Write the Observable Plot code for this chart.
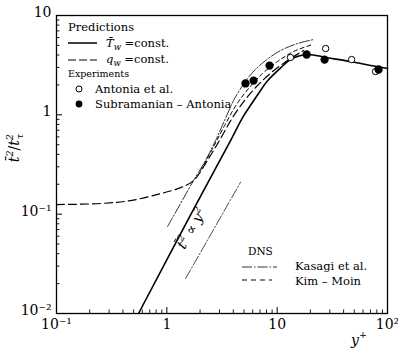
<!DOCTYPE html>
<html><head><meta charset="utf-8">
<script src="https://cdn.jsdelivr.net/npm/d3@7"></script>
<script src="https://cdn.jsdelivr.net/npm/@observablehq/plot@0.6"></script>
<style>html,body{margin:0;padding:0;background:#fff}svg{display:block}</style>
</head><body><div id="chart"></div>
<script>
// Prediction, T_w = const. (solid)
const solidX = [0.554, 1.541, 3.78, 4.86, 5.74, 6.78, 8.18, 10.7, 13.2, 18.9, 27.5, 46.3, 70.3, 100];
const solidY = [0.01, 0.0862, 0.551, 0.939, 1.25, 1.64, 2.2, 2.95, 3.6, 4.05, 3.78, 3.44, 3.14, 2.93];
// Prediction, q_w = const. (dashed)
const qwX = [0.1, 0.2506, 0.469, 0.877, 1.331, 1.746, 2.388, 3.068, 3.941, 5.064, 6.642, 9.085, 12.43, 17.35];
const qwY = [0.125, 0.128, 0.137, 0.161, 0.185, 0.218, 0.363, 0.577, 0.939, 1.393, 1.973, 2.73, 3.52, 4.44];
// DNS Kasagi et al. (dash-dot)
const kasX = [1.015, 1.331, 1.746, 2.243, 2.764, 3.336, 4.025, 4.857, 5.984, 7.849, 10.74, 15.31, 21.38];
const kasY = [0.075, 0.128, 0.218, 0.347, 0.551, 0.876, 1.393, 1.973, 2.67, 3.52, 4.44, 5.22, 5.73];
// DNS Kim - Moin (short dashes)
const kmX = [2.02, 2.596, 3.336, 4.284, 5.505, 7.374, 10.08, 14.08, 20.94];
const kmY = [0.275, 0.458, 0.78, 1.27, 1.84, 2.61, 3.44, 4.34, 5.10];
// reference slope line  t^2 ~ y^2
const refX = [1.48, 4.66];
const refY = [0.0225, 0.21];
// Experiments
const antX = [13.2, 27.5, 47.3, 78];
const antY = [3.78, 4.65, 3.6, 2.73];
const subX = [5.16, 6.11, 8.53, 18.5, 26.9, 83];
const subY = [2.07, 2.21, 3.13, 4.05, 3.6, 2.86];
// ticks
const xMajor = [0.1, 1, 10, 100];
const xLabels = ["10\u207B\u00B9", "1", "10", "10\u00B2"];
const yMajor = [0.01, 0.1, 1, 10];
const yLabels = ["10\u207B\u00B2", "10\u207B\u00B9", "1", "10"];
const minorTicks = d3.range(-2, 2).flatMap(e => d3.range(2, 10).map(m => m * Math.pow(10, e)));
const xMinor = minorTicks.filter(v => v > 0.1 && v < 100);
const yMinor = minorTicks.filter(v => v > 0.01 && v < 10);

const zipXY = (xs, ys) => xs.map((x, i) => ({x, y: ys[i]}));
const solid = zipXY(solidX, solidY), qw = zipXY(qwX, qwY), kas = zipXY(kasX, kasY),
      km = zipXY(kmX, kmY), ref = zipXY(refX, refY), ant = zipXY(antX, antY), sub = zipXY(subX, subY);

const serif = "'DejaVu Serif', 'Liberation Serif', 'Noto Serif', 'Times New Roman', serif";
const svg = Plot.plot({
  width: 398, height: 349,
  marginLeft: 56, marginRight: 11, marginTop: 15, marginBottom: 36,
  style: {fontFamily: serif, background: "white", color: "black"},
  x: {type: "log", domain: [0.1, 100]},
  y: {type: "log", domain: [0.01, 10]},
  marks: [
    Plot.axisX({ticks: xMajor, tickSize: -6, fill: "none", label: null, strokeWidth: 1}),
    Plot.axisX({ticks: xMinor, tickSize: -3.5, fill: "none", label: null, strokeWidth: 0.9}),
    Plot.axisY({ticks: yMajor, tickSize: -6, fill: "none", label: null, strokeWidth: 1}),
    Plot.axisY({ticks: yMinor, tickSize: -3.5, fill: "none", label: null, strokeWidth: 0.9}),
    Plot.axisX({ticks: xMajor, tickSize: 0, tickPadding: 6, fontSize: 14, label: null,
      tickFormat: d => xLabels[xMajor.indexOf(d)]}),
    Plot.axisY({ticks: yMajor, tickSize: 0, tickPadding: 5, fontSize: 14, label: null, dy: -3,
      tickFormat: d => yLabels[yMajor.indexOf(d)]}),
    Plot.frame({stroke: "black", strokeWidth: 1.3}),
    Plot.line(ref, {x: "x", y: "y", stroke: "black", strokeWidth: 0.7, strokeDasharray: "10,2,1.5,2"}),
    Plot.line(kas, {x: "x", y: "y", stroke: "black", strokeWidth: 0.8, strokeDasharray: "10,2,1.5,2", curve: "catmull-rom"}),
    Plot.line(km, {x: "x", y: "y", stroke: "black", strokeWidth: 1, strokeDasharray: "4,3", curve: "catmull-rom"}),
    Plot.line(qw, {x: "x", y: "y", stroke: "black", strokeWidth: 1.2, strokeDasharray: "8,4", curve: "catmull-rom"}),
    Plot.line(solid, {x: "x", y: "y", stroke: "black", strokeWidth: 1.6, curve: "catmull-rom"}),
    Plot.dot(ant, {x: "x", y: "y", r: 3.2, stroke: "black", strokeWidth: 1, fill: "white"}),
    Plot.dot(sub, {x: "x", y: "y", r: 3.4, fill: "black", stroke: "black"})
  ]
});
document.getElementById("chart").appendChild(svg);

// Annotations and legends
const sx = svg.scale("x"), sy = svg.scale("y");
const g = d3.select(svg).append("g")
  .attr("font-family", serif).style("font-family", serif).attr("fill", "black").style("text-anchor", "start");

// slope annotation
const mx = Math.sqrt(refX[0] * refX[1]), my = Math.sqrt(refY[0] * refY[1]);
const ann = g.append("text")
  .attr("transform", `translate(${sx.apply(mx) - 17},${sy.apply(my) + 1}) rotate(-60)`)
  .style("text-anchor", "middle").attr("font-size", 14).attr("font-style", "italic");
ann.append("tspan").text("t\u0304");
ann.append("tspan").attr("font-size", 9.5).attr("dy", -6).text("2");
ann.append("tspan").attr("dy", 6).attr("font-style", "normal").text(" \u221D ");
ann.append("tspan").text("y");
ann.append("tspan").attr("font-size", 9.5).attr("dy", -6).text("2");

// y label
const yl = g.append("text").attr("transform", "translate(19,148) rotate(-90)")
  .style("text-anchor", "middle").attr("font-size", 14).attr("font-style", "italic");
yl.append("tspan").text("t\u0304");
yl.append("tspan").attr("font-size", 9.5).attr("dy", -6).text("2");
yl.append("tspan").attr("dy", 6).attr("font-style", "normal").text("/");
yl.append("tspan").text("t");
yl.append("tspan").attr("font-size", 9.5).attr("dy", -6).text("2");
yl.append("tspan").attr("font-size", 9.5).attr("dx", -5).attr("dy", 10).text("\u03C4");

// x label
const xl = g.append("text").attr("x", 351).attr("y", 345)
  .attr("font-size", 14).attr("font-style", "italic");
xl.append("tspan").text("y");
xl.append("tspan").attr("font-size", 9.5).attr("dy", -7).attr("font-style", "normal").text("+");

// prediction / experiment legend
g.append("text").attr("x", 68).attr("y", 31).attr("font-size", 11.5).text("Predictions");
g.append("line").attr("x1", 68).attr("x2", 97).attr("y1", 43).attr("y2", 43).attr("stroke", "black").attr("stroke-width", 1.5);
const t1 = g.append("text").attr("x", 106).attr("y", 47).attr("font-size", 11.5);
t1.append("tspan").attr("font-style", "italic").text("T\u0304");
t1.append("tspan").attr("font-style", "italic").attr("font-size", 8.5).attr("dy", 3).text("w");
t1.append("tspan").attr("dy", -3).text(" =const.");
g.append("line").attr("x1", 68).attr("x2", 97).attr("y1", 60).attr("y2", 60).attr("stroke", "black").attr("stroke-width", 1.2).attr("stroke-dasharray", "8,3");
const t2 = g.append("text").attr("x", 106).attr("y", 63).attr("font-size", 11.5);
t2.append("tspan").attr("font-style", "italic").text("q");
t2.append("tspan").attr("font-style", "italic").attr("font-size", 8.5).attr("dy", 3).text("w");
t2.append("tspan").attr("dy", -3).text(" =const.");
g.append("text").attr("x", 68).attr("y", 77).attr("font-size", 9.5).text("Experiments");
g.append("circle").attr("cx", 79).attr("cy", 89).attr("r", 3).attr("fill", "white").attr("stroke", "black");
g.append("text").attr("x", 95).attr("y", 93).attr("font-size", 11.5).text("Antonia et al.");
g.append("circle").attr("cx", 79).attr("cy", 104).attr("r", 3.4).attr("fill", "black");
g.append("text").attr("x", 95).attr("y", 108).attr("font-size", 11.5).text("Subramanian \u2013 Antonia");

// DNS legend
g.append("text").attr("x", 248).attr("y", 255).attr("font-size", 10.5).text("DNS");
g.append("line").attr("x1", 242).attr("x2", 277).attr("y1", 267).attr("y2", 267).attr("stroke", "black").attr("stroke-width", 0.8).attr("stroke-dasharray", "10,2,1.5,2");
g.append("text").attr("x", 295).attr("y", 270).attr("font-size", 11.5).text("Kasagi et al.");
g.append("line").attr("x1", 242).attr("x2", 272).attr("y1", 280).attr("y2", 280).attr("stroke", "black").attr("stroke-width", 1).attr("stroke-dasharray", "5,4");
g.append("text").attr("x", 295).attr("y", 285).attr("font-size", 11.5).text("Kim \u2013 Moin");
</script>
</body></html>
